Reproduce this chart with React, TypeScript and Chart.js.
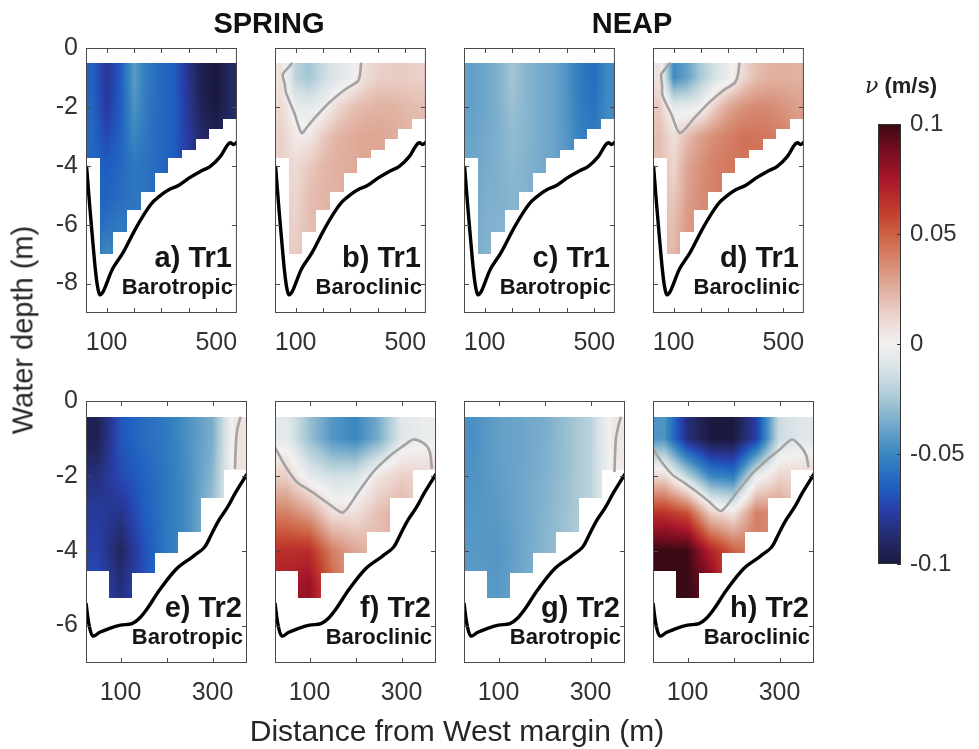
import React, { useEffect, useRef } from 'react';
import { Chart, registerables } from 'chart.js';

Chart.register(...registerables);

// ---------------- DATA ----------------
// Transect Tr1 (top row)
const TR1_X_NODES = [50, 100, 150, 200, 250, 300, 350, 400, 450, 500, 550];
const TR1_Z_NODES = [-1, -2, -3, -4, -5, -6, -7];
const TR1_TOP = -0.5;
const TR1_BOTTOM = [-3.75, -7.0, -6.25, -5.5, -4.9, -4.25, -3.75, -3.45, -3.1, -2.75, -2.4];
const TR1_BATHY_X = [27, 38, 50, 60, 68, 76, 86, 98, 122, 160, 202, 240, 270, 300, 330, 360, 400, 440, 478, 515, 540, 552, 562, 575];
const TR1_BATHY_Z = [-4.0, -5.3, -6.6, -7.6, -8.15, -8.38, -8.3, -8.05, -7.5, -6.95, -6.2, -5.6, -5.22, -4.98, -4.8, -4.68, -4.42, -4.2, -4.02, -3.68, -3.3, -3.22, -3.28, -3.2];
const TR1_X_RANGE = [25, 575];
const TR1_Y_RANGE = [-9, 0];
const TR1_X_TICKS = [100, 200, 300, 400, 500];
const TR1_X_LABELS = [100, 500];
const TR1_Y_TICKS = [-8, -6, -4, -2, 0];

// Transect Tr2 (bottom row)
const TR2_X_NODES = [50, 100, 150, 200, 250, 300, 350];
const TR2_Z_NODES = [-1, -2, -3, -4, -5];
const TR2_TOP = -0.42;
const TR2_BOTTOM = [-4.55, -5.25, -4.6, -4.05, -3.5, -2.6, -1.85];
const TR2_BATHY_X = [25, 32, 40, 55, 75, 100, 125, 140, 158, 185, 222, 258, 283, 297, 313, 332, 350, 375];
const TR2_BATHY_Z = [-5.4, -6.0, -6.28, -6.18, -6.08, -5.99, -5.95, -5.82, -5.55, -5.05, -4.48, -4.15, -3.9, -3.58, -3.2, -2.85, -2.45, -1.95];
const TR2_X_RANGE = [25, 375];
const TR2_Y_RANGE = [-7, 0];
const TR2_X_TICKS = [100, 200, 300];
const TR2_X_LABELS = [100, 300];
const TR2_Y_TICKS = [-6, -4, -2, 0];

// Velocity fields (m/s), rows = depth nodes, columns = x nodes
const A_VALUES = [
  [-0.064, -0.08, -0.066, -0.042, -0.055, -0.062, -0.066, -0.082, -0.097, -0.1, -0.09],
  [-0.063, -0.078, -0.066, -0.045, -0.056, -0.062, -0.066, -0.08, -0.095, -0.1, -0.09],
  [-0.062, -0.072, -0.064, -0.05, -0.057, -0.062, -0.066, -0.078, -0.09, -0.095, -0.088],
  [-0.062, -0.066, -0.062, -0.056, -0.058, -0.062, null, null, null, null, null],
  [null, -0.064, -0.06, -0.056, -0.058, null, null, null, null, null, null],
  [null, -0.058, -0.055, null, null, null, null, null, null, null, null],
  [null, -0.048, null, null, null, null, null, null, null, null, null],
];
const B_VALUES = [
  [0.006, -0.02, -0.026, -0.016, -0.009, -0.004, 0.008, 0.014, 0.015, 0.015, 0.014],
  [0.01, -0.004, -0.006, -0.002, 0.01, 0.018, 0.022, 0.024, 0.024, 0.022, 0.02],
  [0.014, 0.003, 0.004, 0.016, 0.023, 0.026, 0.028, 0.028, 0.026, 0.024, 0.022],
  [0.014, 0.01, 0.016, 0.022, 0.025, 0.026, null, null, null, null, null],
  [null, 0.012, 0.02, 0.023, 0.024, null, null, null, null, null, null],
  [null, 0.014, 0.02, null, null, null, null, null, null, null, null],
  [null, 0.015, null, null, null, null, null, null, null, null, null],
];
const C_VALUES = [
  [-0.04, -0.038, -0.034, -0.026, -0.032, -0.036, -0.038, -0.045, -0.055, -0.06, -0.048],
  [-0.04, -0.038, -0.034, -0.028, -0.032, -0.036, -0.038, -0.045, -0.054, -0.058, -0.048],
  [-0.039, -0.037, -0.034, -0.03, -0.032, -0.036, -0.038, -0.044, -0.052, -0.055, -0.047],
  [-0.038, -0.036, -0.034, -0.031, -0.033, -0.036, null, null, null, null, null],
  [null, -0.035, -0.034, -0.032, -0.033, null, null, null, null, null, null],
  [null, -0.034, -0.033, null, null, null, null, null, null, null, null],
  [null, -0.033, null, null, null, null, null, null, null, null, null],
];
const D_VALUES = [
  [0.006, -0.048, -0.04, -0.024, -0.012, -0.004, 0.01, 0.02, 0.024, 0.025, 0.024],
  [0.016, -0.006, -0.006, -0.002, 0.015, 0.028, 0.034, 0.037, 0.037, 0.034, 0.03],
  [0.02, 0.008, 0.02, 0.03, 0.036, 0.04, 0.044, 0.044, 0.042, 0.04, 0.035],
  [0.02, 0.012, 0.028, 0.035, 0.04, 0.042, null, null, null, null, null],
  [null, 0.016, 0.03, 0.036, 0.04, null, null, null, null, null, null],
  [null, 0.02, 0.032, null, null, null, null, null, null, null, null],
  [null, 0.022, null, null, null, null, null, null, null, null, null],
];
const E_VALUES = [
  [-0.095, -0.068, -0.06, -0.055, -0.045, -0.035, 0.006],
  [-0.085, -0.072, -0.064, -0.056, -0.046, -0.032, 0.006],
  [-0.078, -0.082, -0.066, -0.056, -0.046, -0.028, null],
  [-0.075, -0.092, -0.07, -0.056, null, null, null],
  [-0.07, -0.085, -0.07, null, null, null, null],
];
const F_VALUES = [
  [-0.006, -0.028, -0.044, -0.05, -0.036, -0.008, -0.003],
  [0.014, -0.006, -0.014, -0.012, 0.006, 0.014, 0.012],
  [0.04, 0.03, 0.008, 0.008, 0.02, 0.026, null],
  [0.065, 0.066, 0.04, 0.028, null, null, null],
  [0.075, 0.08, 0.05, null, null, null, null],
];
const G_VALUES = [
  [-0.046, -0.04, -0.038, -0.035, -0.028, -0.02, 0.004],
  [-0.045, -0.041, -0.038, -0.034, -0.028, -0.02, 0.003],
  [-0.044, -0.042, -0.038, -0.033, -0.027, -0.02, null],
  [-0.043, -0.044, -0.038, -0.032, null, null, null],
  [-0.042, -0.043, -0.038, null, null, null, null],
];
const H_VALUES = [
  [-0.045, -0.085, -0.1, -0.1, -0.075, -0.015, -0.008],
  [0.01, -0.02, -0.05, -0.055, -0.005, 0.012, 0.012],
  [0.065, 0.055, 0.015, 0.006, 0.04, 0.035, null],
  [0.1, 0.1, 0.07, 0.05, null, null, null],
  [0.1, 0.1, 0.09, null, null, null, null],
];

// Zero-velocity contours
const B_CONTOUR_X = [88, 70, 53, 60, 65, 95, 122, 145, 168, 224, 282, 327, 335, 339];
const B_CONTOUR_Z = [-0.5, -0.7, -0.9, -1.2, -1.51, -2.2, -2.89, -2.65, -2.39, -1.84, -1.4, -1.13, -0.9, -0.5];
const D_CONTOUR_X = [89, 70, 55, 58, 60, 92, 123, 175, 231, 280, 323, 335, 340];
const D_CONTOUR_Z = [-0.5, -0.7, -0.9, -1.25, -1.62, -2.25, -2.89, -2.38, -1.84, -1.45, -1.18, -0.9, -0.5];
const E_CONTOUR_X = [361, 355, 352, 350, 349];
const E_CONTOUR_Z = [-0.42, -0.7, -0.94, -1.4, -1.81];
const F_CONTOUR_X = [25, 48, 72, 95, 115, 144, 173, 202, 238, 275, 304, 325, 340, 355, 362, 366];
const F_CONTOUR_Z = [-1.24, -1.75, -2.16, -2.35, -2.51, -2.77, -2.98, -2.51, -1.9, -1.46, -1.2, -1.03, -1.07, -1.2, -1.38, -1.81];
const G_CONTOUR_X = [366, 360, 355, 352];
const G_CONTOUR_Z = [-0.42, -0.7, -1.03, -1.9];
const H_CONTOUR_X = [25, 45, 68, 95, 119, 146, 173, 206, 240, 275, 300, 327, 345, 358, 363];
const H_CONTOUR_Z = [-1.29, -1.65, -1.98, -2.2, -2.42, -2.68, -2.94, -2.46, -1.95, -1.55, -1.3, -1.03, -1.2, -1.45, -1.77];

// Colour bar
const CBAR_RANGE = [-0.1, 0.1];
const CBAR_TICKS = [-0.1, -0.05, 0, 0.05, 0.1];
const CBAR_LABELS = ['-0.1', '-0.05', '0', '0.05', '0.1'];

// Colormap (balance-like)
const CMAP_VALUES = [-0.1, -0.09, -0.075, -0.065, -0.05, -0.04, -0.025, -0.012, 0, 0.012, 0.03, 0.05, 0.06, 0.075, 0.09, 0.1];
const CMAP_COLORS = [
  [26, 26, 64], [36, 40, 100], [40, 63, 170], [31, 95, 192], [58, 134, 192], [100, 160, 200],
  [168, 200, 213], [214, 226, 230], [242, 240, 240], [236, 214, 207], [220, 160, 140], [204, 96, 66],
  [194, 62, 45], [168, 22, 42], [110, 12, 30], [58, 10, 20],
];

// ---------------- LAYOUT ----------------
const FONT = '"Liberation Sans", Arial, Helvetica, sans-serif';
const PANEL_LEFTS = [86, 275, 464, 653];
const PANEL_W = 161;
const ROW_TOPS = [41, 394];
const ROW_HEIGHTS = [272, 269];
const PADL = 62, PADR = 6, PADT = 16, PADB = 52;

type Spec = {
  id: string; col: number; row: number;
  xNodes: number[]; zNodes: number[]; top: number; bottoms: number[];
  values: (number | null)[][];
  bathyX: number[]; bathyZ: number[];
  contourX?: number[]; contourZ?: number[];
  xRange: number[]; yRange: number[]; xTicks: number[]; xLabels: number[]; yTicks: number[];
  label: string; sub: string; showY: boolean;
};

const TR1 = { xNodes: TR1_X_NODES, zNodes: TR1_Z_NODES, top: TR1_TOP, bottoms: TR1_BOTTOM, bathyX: TR1_BATHY_X, bathyZ: TR1_BATHY_Z, xRange: TR1_X_RANGE, yRange: TR1_Y_RANGE, xTicks: TR1_X_TICKS, xLabels: TR1_X_LABELS, yTicks: TR1_Y_TICKS, row: 0 };
const TR2 = { xNodes: TR2_X_NODES, zNodes: TR2_Z_NODES, top: TR2_TOP, bottoms: TR2_BOTTOM, bathyX: TR2_BATHY_X, bathyZ: TR2_BATHY_Z, xRange: TR2_X_RANGE, yRange: TR2_Y_RANGE, xTicks: TR2_X_TICKS, xLabels: TR2_X_LABELS, yTicks: TR2_Y_TICKS, row: 1 };

const PANELS: Spec[] = [
  { ...TR1, id: 'a', col: 0, values: A_VALUES, label: 'a) Tr1', sub: 'Barotropic', showY: true },
  { ...TR1, id: 'b', col: 1, values: B_VALUES, contourX: B_CONTOUR_X, contourZ: B_CONTOUR_Z, label: 'b) Tr1', sub: 'Baroclinic', showY: false },
  { ...TR1, id: 'c', col: 2, values: C_VALUES, label: 'c) Tr1', sub: 'Barotropic', showY: false },
  { ...TR1, id: 'd', col: 3, values: D_VALUES, contourX: D_CONTOUR_X, contourZ: D_CONTOUR_Z, label: 'd) Tr1', sub: 'Baroclinic', showY: false },
  { ...TR2, id: 'e', col: 0, values: E_VALUES, contourX: E_CONTOUR_X, contourZ: E_CONTOUR_Z, label: 'e) Tr2', sub: 'Barotropic', showY: true },
  { ...TR2, id: 'f', col: 1, values: F_VALUES, contourX: F_CONTOUR_X, contourZ: F_CONTOUR_Z, label: 'f) Tr2', sub: 'Baroclinic', showY: false },
  { ...TR2, id: 'g', col: 2, values: G_VALUES, contourX: G_CONTOUR_X, contourZ: G_CONTOUR_Z, label: 'g) Tr2', sub: 'Barotropic', showY: false },
  { ...TR2, id: 'h', col: 3, values: H_VALUES, contourX: H_CONTOUR_X, contourZ: H_CONTOUR_Z, label: 'h) Tr2', sub: 'Baroclinic', showY: false },
];

// ---------------- HELPERS ----------------
function colorFor(v: number): number[] {
  const vs = CMAP_VALUES, cs = CMAP_COLORS;
  if (v <= vs[0]) return cs[0];
  if (v >= vs[vs.length - 1]) return cs[cs.length - 1];
  let k = 0;
  while (v > vs[k + 1]) k++;
  const t = (v - vs[k]) / (vs[k + 1] - vs[k]);
  return [0, 1, 2].map((c) => cs[k][c] + (cs[k + 1][c] - cs[k][c]) * t);
}

function clamp(v: number, a: number, b: number) {
  return Math.max(a, Math.min(b, v));
}

function makeHeatmap(spec: Spec) {
  return {
    id: 'heatmap_' + spec.id,
    beforeDatasetsDraw(chart: any) {
      const { ctx, chartArea: ca, scales } = chart;
      const xs = scales.x, ys = scales.y;
      const w = Math.round(ca.right - ca.left), h = Math.round(ca.bottom - ca.top);
      const off = document.createElement('canvas');
      off.width = w; off.height = h;
      const octx = off.getContext('2d')!;
      const img = octx.createImageData(w, h);
      const { xNodes, zNodes, values, top, bottoms } = spec;
      const nx = xNodes.length, nz = zNodes.length;
      const filled: number[][] = values.map((r) => r.slice() as number[]);
      for (let i = 0; i < nx; i++) {
        let last = filled[0][i];
        for (let j = 0; j < nz; j++) {
          if (filled[j][i] == null) filled[j][i] = last; else last = filled[j][i];
        }
      }
      const dx = xNodes[1] - xNodes[0];
      const dz = zNodes[1] - zNodes[0];
      for (let py = 0; py < h; py++) {
        const z = ys.getValueForPixel(ca.top + py + 0.5);
        for (let px = 0; px < w; px++) {
          const x = xs.getValueForPixel(ca.left + px + 0.5);
          const col = Math.floor((x - (xNodes[0] - dx / 2)) / dx);
          if (col < 0 || col >= nx) continue;
          if (z > top || z < bottoms[col]) continue;
          const fi = clamp((x - xNodes[0]) / dx, 0, nx - 1);
          const fj = clamp((z - zNodes[0]) / dz, 0, nz - 1);
          const i0 = Math.floor(fi), i1 = Math.min(i0 + 1, nx - 1);
          const j0 = Math.floor(fj), j1 = Math.min(j0 + 1, nz - 1);
          const tx = fi - i0, tz = fj - j0;
          const v = (filled[j0][i0] * (1 - tx) + filled[j0][i1] * tx) * (1 - tz) +
            (filled[j1][i0] * (1 - tx) + filled[j1][i1] * tx) * tz;
          const c = colorFor(v);
          const k = (py * w + px) * 4;
          img.data[k] = c[0]; img.data[k + 1] = c[1]; img.data[k + 2] = c[2]; img.data[k + 3] = 255;
        }
      }
      octx.putImageData(img, 0, 0);
      ctx.drawImage(off, ca.left, ca.top);
    },
  };
}

function makeFrame(spec: Spec) {
  return {
    id: 'frame_' + spec.id,
    afterDraw(chart: any) {
      const { ctx, chartArea: ca, scales } = chart;
      ctx.save();
      ctx.strokeStyle = '#4a4a4a';
      ctx.lineWidth = 1;
      ctx.strokeRect(ca.left + 0.5, ca.top + 0.5, ca.right - ca.left - 1, ca.bottom - ca.top - 1);
      ctx.beginPath();
      const TL = 5;
      for (const t of scales.x.ticks) {
        const p = Math.round(scales.x.getPixelForValue(t.value)) + 0.5;
        ctx.moveTo(p, ca.top); ctx.lineTo(p, ca.top + TL);
        ctx.moveTo(p, ca.bottom); ctx.lineTo(p, ca.bottom - TL);
      }
      for (const t of scales.y.ticks) {
        const p = Math.round(scales.y.getPixelForValue(t.value)) + 0.5;
        ctx.moveTo(ca.left, p); ctx.lineTo(ca.left + TL, p);
        ctx.moveTo(ca.right, p); ctx.lineTo(ca.right - TL, p);
      }
      ctx.stroke();
      ctx.fillStyle = '#151515';
      ctx.textAlign = 'right';
      ctx.textBaseline = 'alphabetic';
      ctx.font = 'bold 29px ' + FONT;
      ctx.fillText(spec.label, ca.right - 5, ca.bottom - 46);
      ctx.font = 'bold 22px ' + FONT;
      ctx.fillText(spec.sub, ca.right - 4, ca.bottom - 19);
      ctx.restore();
    },
  };
}

function Panel({ spec }: { spec: Spec }) {
  const ref = useRef<HTMLCanvasElement>(null);
  const left = PANEL_LEFTS[spec.col] - PADL;
  const top = ROW_TOPS[spec.row] - PADT;
  const w = PANEL_W + PADL + PADR;
  const h = ROW_HEIGHTS[spec.row] + PADT + PADB;
  useEffect(() => {
    const canvas = ref.current!;
    const datasets: any[] = [];
    if (spec.contourX && spec.contourZ) {
      datasets.push({
        data: spec.contourX.map((x, i) => ({ x, y: spec.contourZ![i] })),
        borderColor: '#a3a3a3', borderWidth: 2.6, pointRadius: 0, tension: 0.25, fill: false,
      });
    }
    datasets.push({
      data: spec.bathyX.map((x, i) => ({ x, y: spec.bathyZ[i] })),
      borderColor: '#000000', borderWidth: 3.4, pointRadius: 0, tension: 0.35, fill: false,
    });
    const tickFont = { family: FONT, size: 25 };
    const chart = new Chart(canvas, {
      type: 'line',
      data: { datasets },
      options: {
        animation: false,
        responsive: false,
        maintainAspectRatio: false,
        events: [],
        layout: { padding: { left: 0, right: PADR, top: PADT, bottom: 0 } },
        plugins: { legend: { display: false }, tooltip: { enabled: false } },
        scales: {
          x: {
            type: 'linear', position: 'bottom', min: spec.xRange[0], max: spec.xRange[1],
            grid: { display: false, drawTicks: false }, border: { display: false },
            afterBuildTicks: (s: any) => { s.ticks = spec.xTicks.map((v) => ({ value: v })); },
            afterFit: (s: any) => { s.height = PADB; },
            ticks: {
              autoSkip: false, maxRotation: 0, minRotation: 0, padding: 15, color: '#333333', font: tickFont,
              callback: (v: any) => (spec.xLabels.includes(Number(v)) ? String(v) : ''),
            },
          },
          y: {
            type: 'linear', position: 'left', min: spec.yRange[0], max: spec.yRange[1],
            grid: { display: false, drawTicks: false }, border: { display: false },
            afterBuildTicks: (s: any) => { s.ticks = spec.yTicks.map((v) => ({ value: v })); },
            afterFit: (s: any) => { s.width = PADL; },
            ticks: {
              autoSkip: false, padding: 8, color: '#333333', font: tickFont,
              callback: (v: any) => (spec.showY ? String(v) : ''),
            },
          },
        },
      } as any,
      plugins: [makeHeatmap(spec), makeFrame(spec)],
    });
    return () => chart.destroy();
  }, [spec]);
  return <canvas ref={ref} width={w} height={h} style={{ position: 'absolute', left, top, width: w, height: h }} />;
}

const CB_LEFT = 870, CB_TOP = 90, CB_W = 109, CB_H = 510;
const CB_PAD_L = 8, CB_PAD_T = 34, CB_PAD_B = 36, CB_AXIS_W = 78;

function ColorBar() {
  const ref = useRef<HTMLCanvasElement>(null);
  useEffect(() => {
    const gradient = {
      id: 'cbar',
      beforeDatasetsDraw(chart: any) {
        const { ctx, chartArea: ca, scales } = chart;
        for (let py = Math.floor(ca.top); py < ca.bottom; py++) {
          const v = scales.y.getValueForPixel(py + 0.5);
          const c = colorFor(v);
          ctx.fillStyle = `rgb(${Math.round(c[0])},${Math.round(c[1])},${Math.round(c[2])})`;
          ctx.fillRect(ca.left, py, ca.right - ca.left, 1);
        }
      },
      afterDraw(chart: any) {
        const { ctx, chartArea: ca, scales } = chart;
        ctx.save();
        ctx.strokeStyle = '#333333';
        ctx.lineWidth = 1;
        ctx.strokeRect(ca.left + 0.5, ca.top + 0.5, ca.right - ca.left - 1, ca.bottom - ca.top - 1);
        ctx.beginPath();
        for (const t of scales.y.ticks) {
          const p = Math.round(scales.y.getPixelForValue(t.value)) + 0.5;
          ctx.moveTo(ca.right, p); ctx.lineTo(ca.right - 4, p);
        }
        ctx.stroke();
        ctx.restore();
      },
    };
    const chart = new Chart(ref.current!, {
      type: 'line',
      data: { datasets: [{ data: [] }] },
      options: {
        animation: false,
        responsive: false,
        maintainAspectRatio: false,
        events: [],
        layout: { padding: { left: CB_PAD_L, right: 0, top: CB_PAD_T, bottom: CB_PAD_B } },
        plugins: { legend: { display: false }, tooltip: { enabled: false } },
        scales: {
          x: { type: 'linear', display: false, min: 0, max: 1 },
          y: {
            type: 'linear', position: 'right', min: CBAR_RANGE[0], max: CBAR_RANGE[1],
            grid: { display: false, drawTicks: false }, border: { display: false },
            afterBuildTicks: (s: any) => { s.ticks = CBAR_TICKS.map((v) => ({ value: v })); },
            afterFit: (s: any) => { s.width = CB_AXIS_W; },
            ticks: {
              padding: 9, color: '#333333', font: { family: FONT, size: 24 },
              callback: (v: any) => CBAR_LABELS[CBAR_TICKS.indexOf(Number(v))] ?? '',
            },
          },
        },
      } as any,
      plugins: [gradient],
    });
    return () => chart.destroy();
  }, []);
  return <canvas ref={ref} width={CB_W} height={CB_H} style={{ position: 'absolute', left: CB_LEFT, top: CB_TOP, width: CB_W, height: CB_H }} />;
}

const textStyle = (x: number, y: number, extra: any = {}) => ({
  position: 'absolute' as const, left: x, top: y, transform: 'translate(-50%, -50%)',
  whiteSpace: 'nowrap' as const, fontFamily: FONT, color: '#111', lineHeight: 1, ...extra,
});

export default function App() {
  return (
    <div style={{ position: 'absolute', left: 0, top: 0, width: 979, height: 749, background: '#ffffff', overflow: 'hidden' }}>
      {PANELS.map((p) => <Panel key={p.id} spec={p} />)}
      <ColorBar />
      <div style={textStyle(269, 23, { fontSize: 29, fontWeight: 'bold' })}>SPRING</div>
      <div style={textStyle(632, 23, { fontSize: 29, fontWeight: 'bold' })}>NEAP</div>
      <div style={textStyle(23, 330, { fontSize: 29, color: '#262626', transform: 'translate(-50%, -50%) rotate(-90deg)' })}>Water depth (m)</div>
      <div style={textStyle(457, 731, { fontSize: 30, color: '#262626' })}>Distance from West margin (m)</div>
      <div style={textStyle(901, 86, { fontSize: 22, fontWeight: 'bold', color: '#222' })}>
        <span style={{ fontStyle: 'italic', fontWeight: 'normal', fontFamily: '"DejaVu Serif", serif' }}>ν</span> (m/s)
      </div>
    </div>
  );
}
